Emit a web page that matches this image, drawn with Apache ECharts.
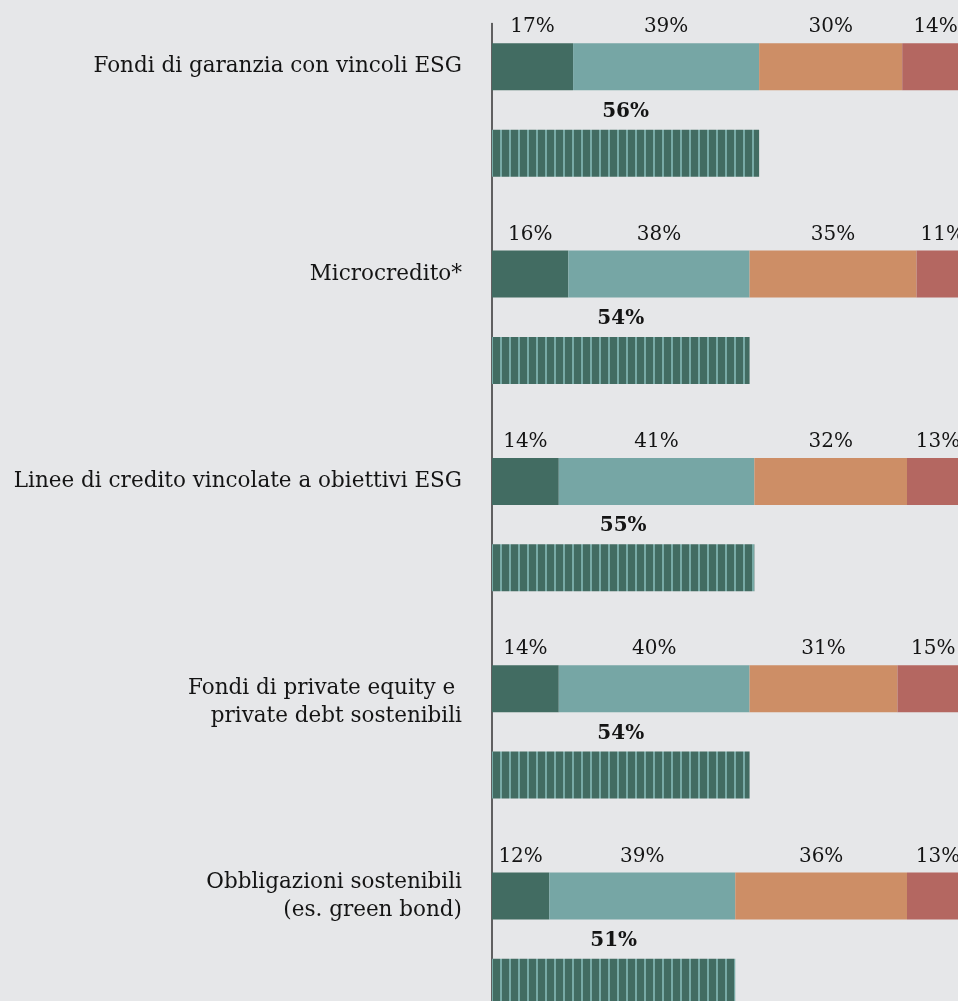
<!DOCTYPE html>
<html>
<head>
<meta charset="utf-8">
<script src="https://cdn.jsdelivr.net/npm/echarts@6/dist/echarts.min.js"></script>
<style>
  html, body { margin: 0; padding: 0; background: #e6e7e9; }
  #chart { width: 958px; height: 1001px; }
</style>
</head>
<body>
<div id="chart"></div>
<script>
// Instruments / categories (top to bottom)
const categories = [
  'Fondi di garanzia con vincoli ESG',
  'Microcredito*',
  'Linee di credito vincolate a obiettivi ESG',
  'Fondi di private equity e \nprivate debt sostenibili',
  'Obbligazioni sostenibili\n(es. green bond)'
];

// Shares of the four answer levels (percent)
const level1 = [17, 16, 14, 14, 12];
const level2 = [39, 38, 41, 40, 39];
const level3 = [30, 35, 32, 31, 36];
const level4 = [14, 11, 13, 15, 13];

// Combined share of the first two levels (percent)
const combined = [56, 54, 55, 54, 51];

const palette = {
  level1: '#426c62',
  level2: '#76a6a5',
  level3: '#cd8e66',
  level4: '#b46761',
  stripeBase: '#426c62',
  stripeLine: '#78aaa6',
  text: '#141414',
  axis: '#333333'
};

// Each category occupies a band of 12 rows on the category axis:
// the stacked bar sits on row 2, the striped total bar on row 7.
const ROWS = 12;
const STACK_ROW = 2;
const TOTAL_ROW = 7;
const rowIds = [];
for (let i = 0; i < categories.length * ROWS; i++) rowIds.push('r' + i);

function spread(values, row) {
  const out = new Array(categories.length * ROWS).fill(null);
  values.forEach((v, i) => { out[i * ROWS + row] = v; });
  return out;
}

// Extra blank line above the label text, per category
const labelLeadLines = [0, 0, 0, 1, 0];

// Vertical pin-stripe fill for the combined bar
function stripePattern() {
  const c = document.createElement('canvas');
  c.width = 9; c.height = 8;
  const ctx = c.getContext('2d');
  ctx.fillStyle = palette.stripeBase;
  ctx.fillRect(0, 0, 9, 8);
  ctx.fillStyle = palette.stripeLine;
  ctx.fillRect(5, 0, 2, 8);
  return c;
}

const FONT = 'DejaVu Serif';

function stackSeries(name, values, color) {
  return {
    name: name,
    type: 'bar',
    stack: 'levels',
    barWidth: 47,
    barGap: '-100%',
    data: spread(values, STACK_ROW),
    itemStyle: { color: color },
    label: {
      show: true,
      position: 'top',
      distance: 6,
      formatter: '{c}%',
      color: palette.text,
      fontFamily: FONT,
      fontSize: 20
    },
    emphasis: { disabled: true }
  };
}

const chart = echarts.init(document.getElementById('chart'), null, { renderer: 'canvas' });

chart.setOption({
  backgroundColor: '#e6e7e9',
  animation: false,
  grid: {
    left: 492, top: 23.6, width: 477, height: 1036.5,
    containLabel: false,
    outerBoundsMode: 'none'
  },
  xAxis: {
    type: 'value',
    min: 0,
    max: 100,
    show: false
  },
  yAxis: {
    type: 'category',
    data: rowIds,
    inverse: true,
    offset: 1,
    axisLine: { show: true, lineStyle: { color: palette.axis, width: 1.5 } },
    axisTick: { show: false },
    splitLine: { show: false },
    axisLabel: {
      interval: 0,
      margin: 29,
      color: palette.text,
      fontFamily: FONT,
      fontSize: 21.5,
      lineHeight: 28,
      align: 'right',
      formatter: function (value, idx) {
        if (idx % ROWS !== STACK_ROW) return '';
        const g = Math.floor(idx / ROWS);
        return '\u00a0\n'.repeat(labelLeadLines[g]) + categories[g];
      }
    }
  },
  series: [
    stackSeries('Livello 1', level1, palette.level1),
    stackSeries('Livello 2', level2, palette.level2),
    stackSeries('Livello 3', level3, palette.level3),
    stackSeries('Livello 4', level4, palette.level4),
    {
      name: 'Totale',
      type: 'bar',
      stack: 'total',
      barWidth: 47,
      barGap: '-100%',
      data: spread(combined, TOTAL_ROW),
      itemStyle: { color: { image: stripePattern(), repeat: 'repeat' } },
      label: {
        show: true,
        position: 'top',
        distance: 8,
        formatter: '{c}%',
        color: palette.text,
        fontFamily: FONT,
        fontWeight: 'bold',
        fontSize: 20
      },
      emphasis: { disabled: true }
    }
  ]
});
</script>
</body>
</html>
